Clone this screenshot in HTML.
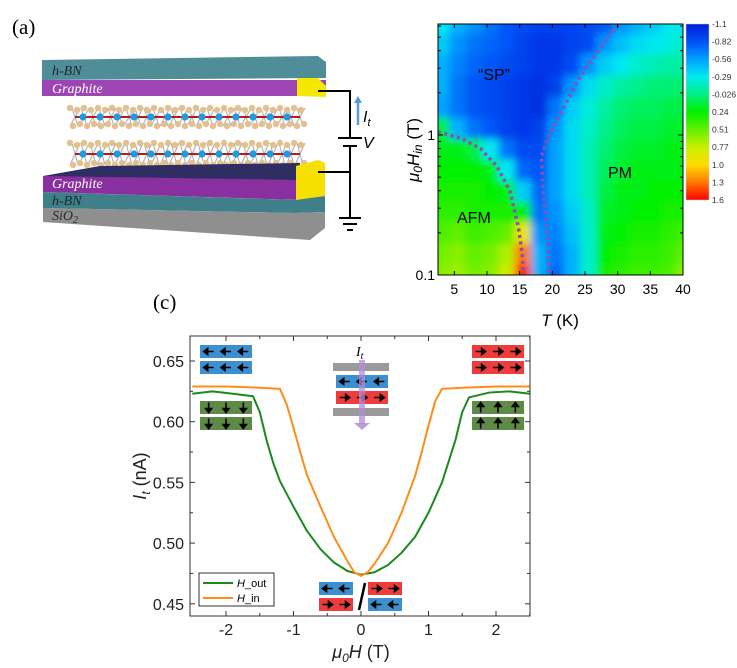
<!DOCTYPE html>
<html><head><meta charset="utf-8"><style>
body{margin:0;background:#fff;width:737px;height:668px;overflow:hidden}
svg{display:block;font-family:"Liberation Sans",sans-serif}
</style></head><body>
<svg id="fig" width="737" height="668" viewBox="0 0 737 668">
<defs>
<filter id="blur" x="-10%" y="-10%" width="120%" height="120%"><feGaussianBlur stdDeviation="4"/></filter>
<clipPath id="hmclip"><rect x="438" y="24" width="245" height="251"/></clipPath>
<linearGradient id="cbar" x1="0" y1="0" x2="0" y2="1">
<stop offset="0" stop-color="#001ed8"/><stop offset="0.1" stop-color="#0050f5"/><stop offset="0.2" stop-color="#00a0ff"/><stop offset="0.3" stop-color="#00ebf0"/><stop offset="0.4" stop-color="#00f082"/><stop offset="0.5" stop-color="#00f000"/><stop offset="0.6" stop-color="#64f000"/><stop offset="0.7" stop-color="#c8f000"/><stop offset="0.8" stop-color="#ffdc00"/><stop offset="0.9" stop-color="#ff7800"/><stop offset="1" stop-color="#ff0000"/>
</linearGradient>
</defs>

<text x="12" y="34" font-family="Liberation Serif,serif" font-size="21">(a)</text>
<g>
 <polygon points="42,60 318,56 326,62 326,78 42,80" fill="#4f8d98"/>
 <text x="52" y="75" font-family="Liberation Serif,serif" font-style="italic" font-size="14" fill="#1a2a2e">h-BN</text>
 <polygon points="42,80 326,80 326,96 42,96" fill="#9d45b3"/>
 <text x="52" y="93" font-family="Liberation Serif,serif" font-style="italic" font-size="14" fill="#fff">Graphite</text>
 <polygon points="297,78 318,78 326,86 326,97 297,96" fill="#f5e800"/>
 <g id="crystal"></g>
 <polygon points="43,176 100,166 300,163 300,182 43,186" fill="#2e2e62"/>
 <polygon points="43,176 300,180 300,200 43,192" fill="#8a2fa0"/>
 <text x="52" y="188" font-family="Liberation Serif,serif" font-style="italic" font-size="14" fill="#fff">Graphite</text>
 <polygon points="296,166 318,160 325,163 325,196 296,201" fill="#f5e000"/>
 <polygon points="43,192 296,200 325,196 325,212 296,213 43,208" fill="#3f7f8a"/>
 <text x="52" y="205" font-family="Liberation Serif,serif" font-style="italic" font-size="14" fill="#1a2a2e">h-BN</text>
 <polygon points="43,208 296,213 325,212 325,228 310,240 43,222" fill="#8f8f8f"/>
 <text x="52" y="220" font-family="Liberation Serif,serif" font-style="italic" font-size="14" fill="#2a2a2a">SiO<tspan font-size="10" dy="3">2</tspan></text>
 <g stroke="#000" stroke-width="2" fill="none">
  <polyline points="318,91 350,91 350,138"/>
  <line x1="338" y1="138" x2="362" y2="138"/>
  <line x1="343" y1="146" x2="357" y2="146"/>
  <polyline points="350,146 350,217"/>
  <line x1="318" y1="172" x2="350" y2="172"/>
  <line x1="339" y1="218" x2="361" y2="218"/>
  <line x1="343" y1="224" x2="357" y2="224"/>
  <line x1="347" y1="230" x2="353" y2="230"/>
 </g>
 <line x1="358" y1="125" x2="358" y2="101" stroke="#5b9bd5" stroke-width="2.5"/>
 <polygon points="354,103 362,103 358,96" fill="#5b9bd5"/>
 <text x="363" y="122" font-size="16" font-style="italic">I<tspan font-size="11" dy="4">t</tspan></text>
 <text x="363" y="148" font-size="16" font-style="italic">V</text>
</g>

<g id="heatmap">
 <g clip-path="url(#hmclip)"><g id="cells" filter="url(#blur)"></g><g id="bounds"></g></g>
 <rect x="438" y="24" width="245" height="251" fill="none" stroke="#000" stroke-width="1"/>
 <g id="hmaxes"></g>
 <text x="478" y="80" font-size="16">“SP”</text>
 <text x="457" y="223" font-size="16">AFM</text>
 <text x="608" y="178" font-size="16">PM</text>
 <text x="560" y="326" font-size="17" text-anchor="middle"><tspan font-style="italic">T</tspan> (K)</text>
 <text transform="translate(419,150) rotate(-90)" font-size="17" text-anchor="middle"><tspan font-style="italic">μ</tspan><tspan font-style="italic" font-size="12" dy="3">0</tspan><tspan font-style="italic" dy="-3">H</tspan><tspan font-style="italic" font-size="12" dy="3">in</tspan><tspan dy="-3"> (T)</tspan></text>
 <rect x="686" y="24" width="23" height="176" fill="url(#cbar)" stroke="#ccc" stroke-width="0.5"/>
 <g id="cblabels" font-size="8.5" fill="#333"></g>
</g>

<text x="153" y="309" font-family="Liberation Serif,serif" font-size="21">(c)</text>
<g id="linechart">
 <g id="laxes"></g>
 <g id="lines"></g>
 <rect x="190" y="336" width="340" height="280" fill="none" stroke="#333" stroke-width="1"/>
 <g id="insets"></g>
 <g>
  <rect x="199" y="573" width="75" height="33" fill="#fff" stroke="#000" stroke-width="0.8"/>
  <line x1="203" y1="583" x2="233" y2="583" stroke="#1a8a1a" stroke-width="2"/>
  <text x="237" y="587" font-size="11"><tspan font-style="italic">H</tspan>_out</text>
  <line x1="203" y1="598" x2="233" y2="598" stroke="#ff8c1a" stroke-width="2"/>
  <text x="237" y="602" font-size="11"><tspan font-style="italic">H</tspan>_in</text>
 </g>
 <text x="361" y="658" font-size="18" text-anchor="middle" fill="#222"><tspan font-style="italic">μ</tspan><tspan font-style="italic" font-size="12" dy="4">0</tspan><tspan font-style="italic" dy="-4">H</tspan> (T)</text>
 <text transform="translate(146,476) rotate(-90)" font-size="18" text-anchor="middle" fill="#222"><tspan font-style="italic">I</tspan><tspan font-style="italic" font-size="12" dy="4">t</tspan><tspan dy="-4"> (nA)</tspan></text>
</g>
</svg>

<script>
// ---------- heatmap data ----------
const hmTemps = [3,5.5,8,10.5,13,15.5,18,20.5,23,25.5,28,30.5,33,35.5,38,40];
const hmFields = [6.2,4.5,3.2,2.2,1.6,1.1,0.8,0.56,0.4,0.28,0.2,0.14,0.1];
const hmValues = [
 [-0.3,-0.5,-0.6,-0.7,-0.8,-0.85,-0.9,-0.9,-0.9,-0.85,-0.8,-0.6,-0.5,-0.4,-0.3,-0.3],
 [-0.4,-0.6,-0.7,-0.75,-0.8,-0.9,-0.95,-0.95,-0.9,-0.85,-0.6,-0.45,-0.35,-0.3,-0.25,-0.2],
 [-0.5,-0.65,-0.75,-0.8,-0.85,-0.9,-0.95,-0.95,-0.85,-0.6,-0.4,-0.3,-0.2,-0.15,-0.1,-0.1],
 [-0.5,-0.7,-0.8,-0.85,-0.9,-0.95,-1.0,-0.9,-0.6,-0.35,-0.2,-0.1,-0.05,0,0,0],
 [-0.55,-0.7,-0.8,-0.85,-0.9,-0.95,-1.0,-0.7,-0.4,-0.25,-0.1,0,0.05,0.05,0.1,0.1],
 [0.1,-0.5,-0.7,-0.8,-0.9,-0.95,-0.9,-0.6,-0.35,-0.2,-0.05,0.05,0.1,0.1,0.15,0.15],
 [0.2,0.2,0.1,-0.3,-0.7,-0.85,-0.85,-0.55,-0.35,-0.15,0,0.1,0.15,0.15,0.2,0.2],
 [0.25,0.25,0.25,0.2,-0.3,-0.75,-0.8,-0.55,-0.35,-0.15,0.05,0.15,0.2,0.2,0.2,0.2],
 [0.3,0.3,0.3,0.25,0.2,-0.4,-0.75,-0.55,-0.35,-0.15,0.1,0.2,0.2,0.25,0.25,0.25],
 [0.35,0.35,0.3,0.3,0.3,0.2,-0.7,-0.6,-0.4,-0.2,0.15,0.2,0.25,0.25,0.3,0.3],
 [0.45,0.5,0.4,0.45,0.5,0.9,-0.6,-0.65,-0.45,-0.2,0.2,0.25,0.3,0.3,0.35,0.4],
 [0.55,0.6,0.5,0.55,0.7,1.3,-0.5,-0.7,-0.5,-0.2,0.25,0.3,0.35,0.35,0.4,0.5],
 [0.6,0.65,0.55,0.6,0.8,1.5,-0.5,-0.75,-0.5,-0.2,0.3,0.35,0.4,0.4,0.45,0.6]
];
const afmBoundaryT = [2.5,6,9,11.5,13.5,14.8,15.4,15.6];
const afmBoundaryH = [1.05,0.95,0.8,0.6,0.4,0.22,0.14,0.1];
const spBoundaryT = [30,27,24,21.5,19.5,18.3,18.6,19.2,19.5];
const spBoundaryH = [6.2,4,2.5,1.5,1.0,0.7,0.4,0.2,0.1];
const hmXTicks = [5,10,15,20,25,30,35,40];
const hmYTicks = [0.1,1];
const cbLabels = ["-1.1","-0.82","-0.56","-0.29","-0.026","0.24","0.51","0.77","1.0","1.3","1.6"];

// ---------- line chart data ----------
const outField = [-2.5,-2.2,-1.9,-1.6,-1.5,-1.4,-1.3,-1.2,-1.0,-0.8,-0.6,-0.4,-0.2,0,0.2,0.4,0.6,0.8,1.0,1.2,1.4,1.5,1.6,1.9,2.2,2.5];
const outCurrent = [0.623,0.625,0.623,0.621,0.608,0.585,0.566,0.551,0.53,0.51,0.495,0.484,0.477,0.474,0.476,0.482,0.492,0.505,0.525,0.55,0.585,0.608,0.62,0.624,0.625,0.623];
const inField = [-2.5,-2.0,-1.5,-1.2,-1.1,-1.0,-0.9,-0.8,-0.6,-0.4,-0.2,-0.1,0,0.1,0.2,0.4,0.6,0.8,0.9,1.0,1.1,1.2,1.5,2.0,2.5];
const inCurrent = [0.629,0.629,0.628,0.627,0.614,0.595,0.575,0.556,0.53,0.505,0.485,0.476,0.473,0.476,0.483,0.5,0.525,0.555,0.575,0.597,0.617,0.627,0.628,0.629,0.629];
const lcXTicks = [-2,-1,0,1,2];
const lcYTicks = [0.45,0.50,0.55,0.60,0.65];
const lcYLabels = ["0.45","0.50","0.55","0.60","0.65"];

const NS="http://www.w3.org/2000/svg";
function mk(tag,attrs,parent){const e=document.createElementNS(NS,tag);for(const k in attrs)e.setAttribute(k,attrs[k]);if(parent)parent.appendChild(e);return e;}

const hx = t => 438 + (t-2.5)*(245/37.5);
const hy = h => 275 - Math.log10(h/0.1)*140;
function cmap(v){
 const st=[[-1.1,[0,30,216]],[-0.82,[0,80,245]],[-0.56,[0,160,255]],[-0.29,[0,235,240]],[-0.026,[0,240,130]],[0.24,[0,240,0]],[0.51,[100,240,0]],[0.77,[200,240,0]],[1.0,[255,220,0]],[1.3,[255,120,0]],[1.6,[255,0,0]]];
 if(v<=st[0][0])return `rgb(${st[0][1]})`;
 for(let i=1;i<st.length;i++){if(v<=st[i][0]){const f=(v-st[i-1][0])/(st[i][0]-st[i-1][0]);const a=st[i-1][1],b=st[i][1];return `rgb(${a.map((c,j)=>Math.round(c+(b[j]-c)*f)).join(',')})`;}}
 return `rgb(${st[st.length-1][1]})`;
}
const cells=document.getElementById('cells');
for(let r=0;r<hmFields.length;r++){
 const yTop = r===0 ? 0 : hy(Math.sqrt(hmFields[r]*hmFields[r-1]));
 const yBot = r===hmFields.length-1 ? 300 : hy(Math.sqrt(hmFields[r]*hmFields[r+1]));
 for(let c=0;c<hmTemps.length;c++){
  const xL = c===0 ? 420 : hx((hmTemps[c]+hmTemps[c-1])/2);
  const xR = c===hmTemps.length-1 ? 700 : hx((hmTemps[c]+hmTemps[c+1])/2);
  const rc=mk('rect',{x:xL,y:yTop,width:xR-xL+0.5,height:yBot-yTop+0.5,fill:cmap(hmValues[r][c])},cells);
  
  
 }
}
const bounds=document.getElementById('bounds');
function bline(T,H,name){
 const p=mk('polyline',{points:T.map((t,i)=>hx(t)+','+hy(H[i])).join(' '),fill:'none',stroke:'#8a4fb8',"stroke-width":3.5,"stroke-dasharray":"3 3.5"},bounds);
 
 
}
bline(afmBoundaryT,afmBoundaryH,'afm-boundary');
bline(spBoundaryT,spBoundaryH,'sp-pm-boundary');
const hma=document.getElementById('hmaxes');
hmXTicks.forEach(t=>{
 mk('line',{x1:hx(t),x2:hx(t),y1:275,y2:271,stroke:'#000'},hma);
 mk('line',{x1:hx(t),x2:hx(t),y1:24,y2:28,stroke:'#000'},hma);
 const tx=mk('text',{x:hx(t),y:294,"font-size":14,"text-anchor":"middle"},hma);tx.textContent=t;
 
 
});
hmYTicks.forEach(h=>{
 mk('line',{x1:438,x2:443,y1:hy(h),y2:hy(h),stroke:'#000'},hma);
 mk('line',{x1:683,x2:678,y1:hy(h),y2:hy(h),stroke:'#000'},hma);
 const tx=mk('text',{x:435,y:hy(h)+5,"font-size":14,"text-anchor":"end"},hma);tx.textContent=h;
 
 
});
[0.2,0.3,0.4,0.5,0.6,0.7,0.8,0.9,2,3,4,5,6].forEach(h=>{
 mk('line',{x1:438,x2:441,y1:hy(h),y2:hy(h),stroke:'#000'},hma);
 mk('line',{x1:683,x2:680,y1:hy(h),y2:hy(h),stroke:'#000'},hma);
});
const cbl=document.getElementById('cblabels');
cbLabels.forEach((l,i)=>{
 const y=24+i*17.6;
 const tx=mk('text',{x:712,y:y+3},cbl);tx.textContent=l;
 
 
});

const lx = h => 361 + h*67.5;
const ly = v => 361 + (0.65-v)*1214;
const la=document.getElementById('laxes');
lcXTicks.forEach(t=>{
 mk('line',{x1:lx(t),x2:lx(t),y1:616,y2:611,stroke:'#333'},la);
 mk('line',{x1:lx(t),x2:lx(t),y1:336,y2:341,stroke:'#333'},la);
 mk('line',{x1:lx(t+0.5),x2:lx(t+0.5),y1:616,y2:613,stroke:'#333'},la);
 mk('line',{x1:lx(t+0.5),x2:lx(t+0.5),y1:336,y2:339,stroke:'#333'},la);
 const tx=mk('text',{x:lx(t),y:635,"font-size":16,"text-anchor":"middle",fill:"#222"},la);tx.textContent=t;
 
 
});
lcYTicks.forEach((v,i)=>{
 mk('line',{x1:190,x2:195,y1:ly(v),y2:ly(v),stroke:'#333'},la);
 mk('line',{x1:530,x2:525,y1:ly(v),y2:ly(v),stroke:'#333'},la);
 if(ly(v+0.025)>336){
  mk('line',{x1:190,x2:193,y1:ly(v+0.025),y2:ly(v+0.025),stroke:'#333'},la);
  mk('line',{x1:530,x2:527,y1:ly(v+0.025),y2:ly(v+0.025),stroke:'#333'},la);
 }
 const tx=mk('text',{x:184,y:ly(v)+6,"font-size":16,"text-anchor":"end",fill:"#222"},la);tx.textContent=lcYLabels[i];
 
 
});
const lines=document.getElementById('lines');
const gOut=mk('polyline',{points:outField.map((h,i)=>lx(h)+','+ly(outCurrent[i])).join(' '),fill:'none',stroke:'#1a8a1a',"stroke-width":2,"stroke-linejoin":"round"},lines);


const gIn=mk('polyline',{points:inField.map((h,i)=>lx(h)+','+ly(inCurrent[i])).join(' '),fill:'none',stroke:'#ff8c1a',"stroke-width":2,"stroke-linejoin":"round"},lines);



const ins=document.getElementById('insets');
function bar(x,y,w,h,fill,dir,n,name){
 const g=mk('g',{},ins);
 
 
 mk('rect',{x:x,y:y,width:w,height:h,fill:fill},g);
 for(let i=0;i<n;i++){
  const cx=x+w*(i+0.5)/n, cy=y+h/2;
  let d;
  if(dir==='L')d=`M${cx+5},${cy} L${cx-2},${cy} M${cx-5},${cy} l4,-3 l0,6 z`;
  else if(dir==='R')d=`M${cx-5},${cy} L${cx+2},${cy} M${cx+5},${cy} l-4,-3 l0,6 z`;
  else if(dir==='D')d=`M${cx},${cy-5} L${cx},${cy+2} M${cx},${cy+5} l-3,-4 l6,0 z`;
  else d=`M${cx},${cy+5} L${cx},${cy-2} M${cx},${cy-5} l-3,4 l6,0 z`;
  mk('path',{d:d,stroke:'#000',"stroke-width":1.6,fill:'#000'},g);
 }
}
const B='#3d8fd0',R='#ee3b3b',G='#5e8a48';
bar(200,345,52,13,B,'L',3,'spin-left-1');bar(200,361,52,13,B,'L',3,'spin-left-2');
bar(200,401,52,13,G,'D',3,'spin-down-1');bar(200,417,52,13,G,'D',3,'spin-down-2');
bar(472,345,52,13,R,'R',3,'spin-right-1');bar(472,361,52,13,R,'R',3,'spin-right-2');
bar(472,401,52,13,G,'U',3,'spin-up-1');bar(472,417,52,13,G,'U',3,'spin-up-2');
mk('rect',{x:333,y:363,width:56,height:8,fill:'#9a9a9a'},ins);
bar(336,375,52,13,B,'L',3,'center-spin-left');bar(336,391,52,13,R,'R',3,'center-spin-right');
mk('rect',{x:333,y:408,width:56,height:8,fill:'#9a9a9a'},ins);
mk('rect',{x:359,y:360,width:6,height:64,fill:'#b58ad8',opacity:0.75},ins);
mk('polygon',{points:'354,423 370,423 362,430',fill:'#b58ad8',opacity:0.85},ins);
const itl=mk('text',{x:356,y:356,"font-size":14,"font-style":"italic","font-family":"Liberation Serif,serif"},ins);
itl.textContent='I';
const itsub=mk('tspan',{"font-size":10,dy:3},itl);itsub.textContent='t';


bar(319,582,34,13,B,'L',2,'bottom-spin-left');bar(319,598,34,13,R,'R',2,'bottom-spin-right');
bar(368,582,34,13,R,'R',2,'bottom-spin-right-2');bar(368,598,34,13,B,'L',2,'bottom-spin-left-2');
mk('line',{x1:365,y1:583,x2:359,y2:610,stroke:'#000',"stroke-width":2.5},ins);

const cr=document.getElementById('crystal');
[[108,126,117],[143,165,154]].forEach(([y1,y2,ym])=>{
 for(let x=72;x<=305;x+=9){
  mk('line',{x1:x,y1:y1,x2:x+6,y2:y2,stroke:'#aaa',"stroke-width":1},cr);
  mk('line',{x1:x+8,y1:y1,x2:x-2,y2:y2,stroke:'#aaa',"stroke-width":1},cr);
 }
 mk('line',{x1:75,y1:ym,x2:300,y2:ym,stroke:'#c01818',"stroke-width":2},cr);
 for(let x=70;x<=305;x+=7){
  mk('circle',{cx:x,cy:y1+((x/7)%2)*2,r:3.2,fill:'#e3c08e'},cr);
  mk('circle',{cx:x+3,cy:y2-((x/7)%2)*2,r:3.2,fill:'#e3c08e'},cr);
 }
 for(let x=83;x<=290;x+=17){
  mk('circle',{cx:x,cy:ym,r:3.6,fill:'#1e9ae0'},cr);
 }
});
</script>
</body></html>
